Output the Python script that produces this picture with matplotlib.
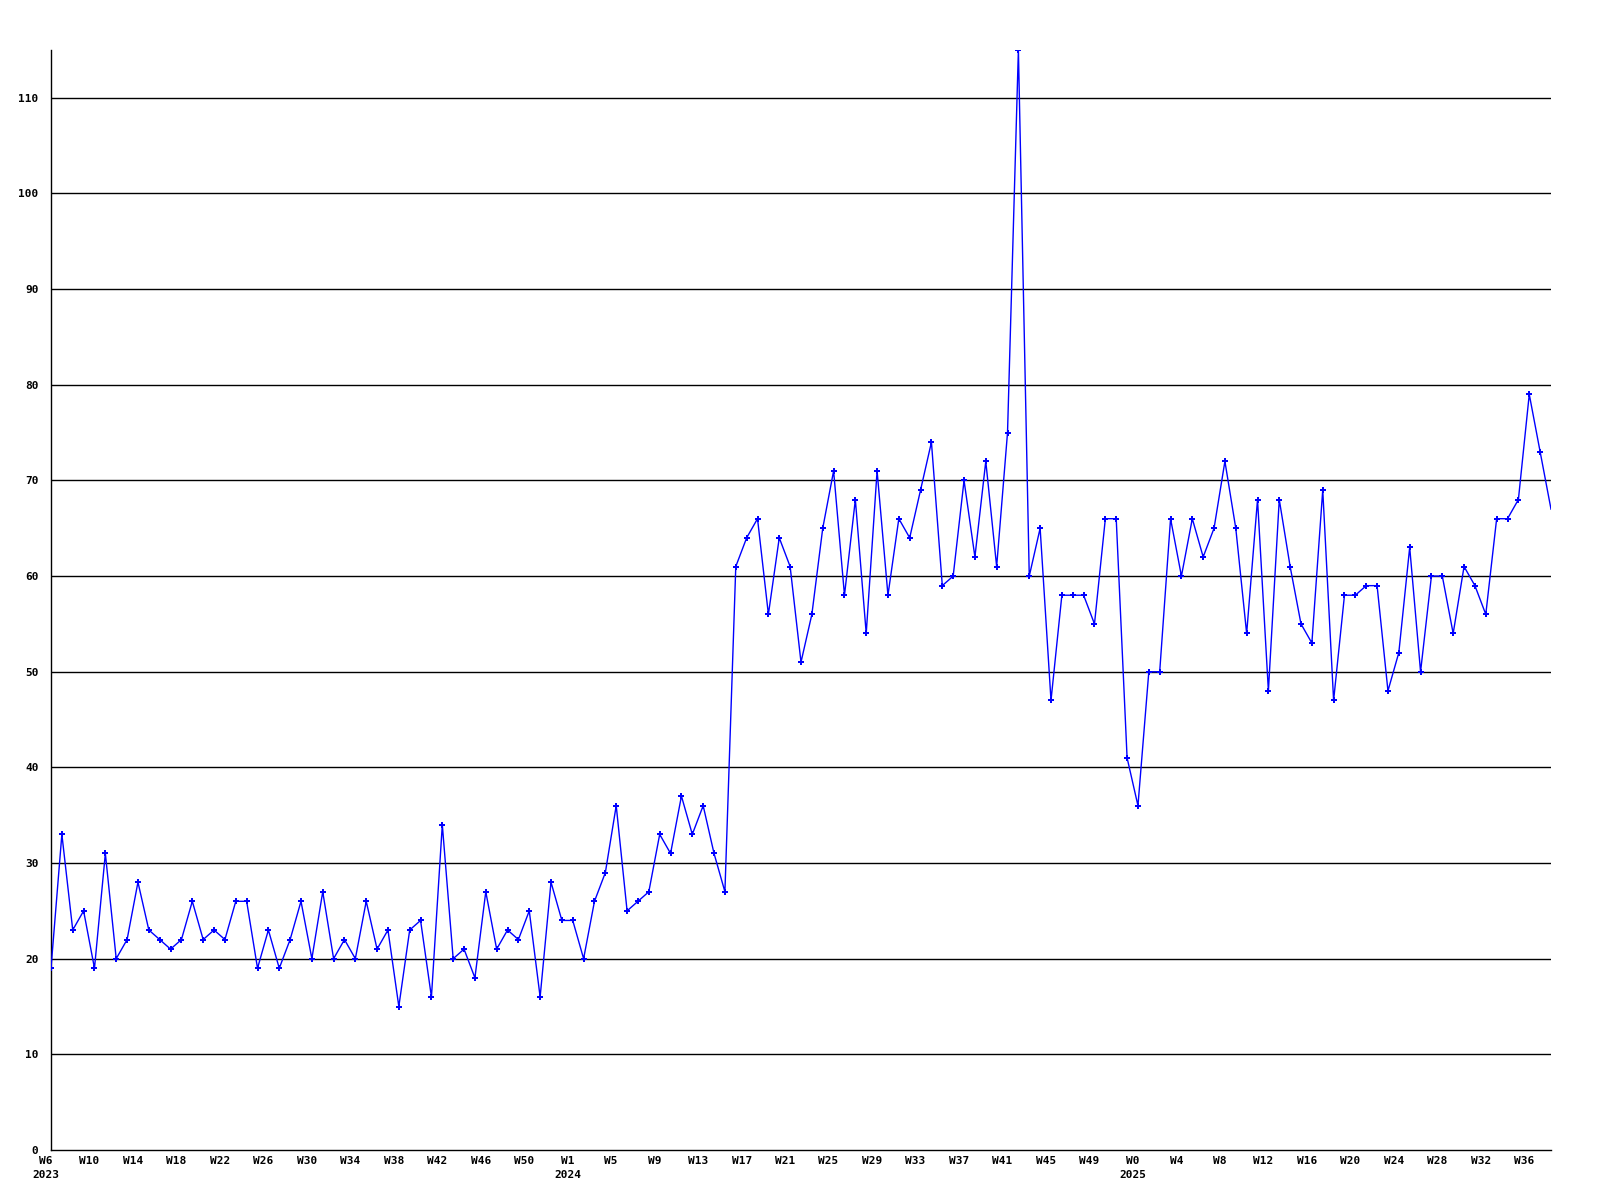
import matplotlib
matplotlib.use("Agg")
import matplotlib.pyplot as plt
import matplotlib.transforms as mtransforms

# weekly counts, 2023 W6 .. 2025 W38
valores = [
    19, 33, 23, 25, 19, 31, 20, 22, 28, 23, 22, 21, 22, 26, 22, 23, 22, 26, 26, 19,
    23, 19, 22, 26, 20, 27, 20, 22, 20, 26, 21, 23, 15,
    23, 24, 16, 34, 20, 21, 18, 27, 21, 23, 22, 25, 16, 28, 24, 24, 20, 26, 29, 36,
    25, 26, 27, 33, 31, 37, 33, 36, 31, 27,
    61, 64, 66, 56, 64, 61, 51, 56, 65, 71, 58, 68, 54, 71, 58, 66, 64, 69, 74, 59,
    60, 70, 62, 72, 61, 75,
    115,
    60, 65, 47, 58, 58, 58, 55, 66, 66, 41, 36, 50, 50, 66, 60, 66, 62, 65, 72, 65,
    54, 68, 48,
    68, 61, 55, 53, 69, 47, 58, 58, 59, 59, 48, 52, 63, 50, 60, 60, 54, 61, 59, 56,
    66, 66, 68, 79, 73, 67,
]

semanas_2023 = ["W6", "W10", "W14", "W18", "W22", "W26", "W30", "W34", "W38", "W42", "W46", "W50"]
semanas_2024 = ["W1", "W5", "W9", "W13", "W17", "W21", "W25", "W29", "W33", "W37", "W41", "W45", "W49"]
semanas_2025 = ["W0", "W4", "W8", "W12", "W16", "W20", "W24", "W28", "W32", "W36"]

rotulos = []
for ano, semanas in (("2023", semanas_2023), ("2024", semanas_2024), ("2025", semanas_2025)):
    for i, s in enumerate(semanas):
        rotulos.append(s + "\n" + ano if i == 0 else s + "\n")

y_ticks = list(range(0, 111, 10))

fig = plt.figure(figsize=(16, 12), dpi=100)
ax = fig.add_axes([51 / 1600, 50 / 1200, 1500 / 1600, 1100 / 1200])

x = list(range(len(valores)))
ax.plot(x, valores, color="#0000ff", linewidth=1, zorder=3)
# marcadores sem o ultimo ponto (fica na borda)
ax.plot(x[:-1], valores[:-1], linestyle="none", color="#0000ff", marker="P",
        markersize=4, markeredgewidth=0, zorder=4)

ax.set_xlim(0, len(valores) - 1)
ax.set_ylim(0, 115)

for v in y_ticks[1:]:
    ax.axhline(v, color="black", linewidth=1, zorder=1)

fonte = dict(family="DejaVu Sans Mono", weight="bold", size=8)

ax.set_yticks(y_ticks)
ax.set_yticklabels([str(v) for v in y_ticks], **fonte)
ax.set_xticks(list(range(0, len(valores), 4))[:len(rotulos)])
ax.set_xticklabels(rotulos, linespacing=1.6, va="top", **fonte)
ax.tick_params(axis="both", length=0)
ax.tick_params(axis="y", pad=9)
ax.tick_params(axis="x", pad=4)

desloc = mtransforms.ScaledTranslation(-5 / 100, 0, fig.dpi_scale_trans)
for lab in ax.get_xticklabels():
    lab.set_transform(lab.get_transform() + desloc)

for lado in ("top", "right"):
    ax.spines[lado].set_visible(False)
ax.spines["left"].set_linewidth(1)
ax.spines["bottom"].set_linewidth(1)

fig.savefig("out.png", dpi=100, facecolor="white")
